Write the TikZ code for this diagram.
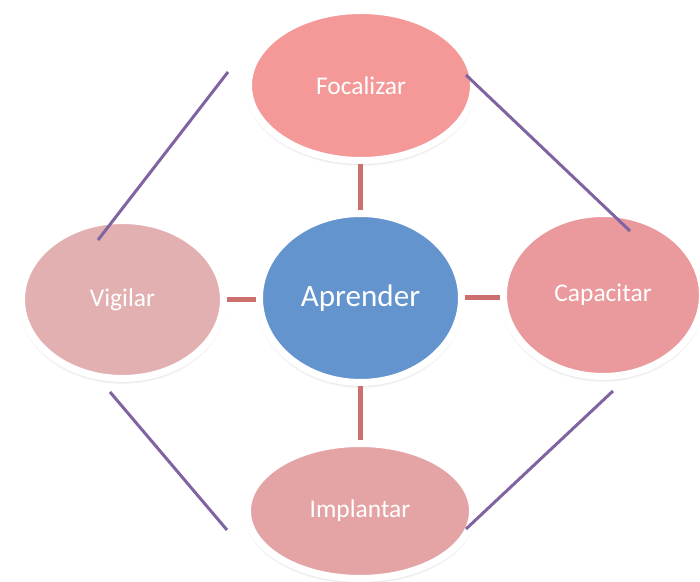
\documentclass[tikz,border=0pt]{standalone}
\usepackage{fontspec}
\setmainfont{Carlito}
\usepackage{tikz}
\usetikzlibrary{shapes.geometric, shadows.blur}
\usepackage{xcolor}

\definecolor{focfill}{RGB}{244,152,152}
\definecolor{aprfill}{RGB}{99,148,205}
\definecolor{vigfill}{RGB}{227,176,178}
\definecolor{capfill}{RGB}{234,154,156}
\definecolor{impfill}{RGB}{228,164,165}
\definecolor{spoke}{RGB}{204,112,110}
\definecolor{ring}{RGB}{128,100,162}

\begin{document}
\begin{tikzpicture}[
    bubble/.style={
      ellipse, draw=white, line width=0.14cm,
      text=white, font=\fontsize{14.5}{17}\selectfont,
      inner sep=0pt,
      blur shadow={shadow xshift=0pt, shadow yshift=-1.5pt,
        shadow opacity=30, shadow blur steps=6}
    },
    spokeline/.style={line width=0.1cm, draw=spoke},
    ringline/.style={line width=0.06cm, draw=ring}
  ]
    \useasboundingbox (0,0) rectangle (14,11.64);

    \node[bubble, fill=aprfill, minimum width=4.04cm, minimum height=3.38cm,
      font=\fontsize{17.7}{21}\selectfont] (apr) at (7.21,5.68) {Aprender};
    \node[bubble, fill=focfill, minimum width=4.50cm, minimum height=3.00cm] (foc) at (7.22,9.93) {Focalizar};
    \node[bubble, fill=vigfill, minimum width=4.04cm, minimum height=3.16cm] (vig) at (2.45,5.65) {Vigilar};
    \node[bubble, fill=capfill, minimum width=3.98cm, minimum height=3.26cm] (cap) at (12.06,5.74) {Capacitar};
    \node[bubble, fill=impfill, minimum width=4.50cm, minimum height=2.70cm] (imp) at (7.20,1.42) {Implantar};

    \draw[spokeline] (foc.south -| apr.north) -- (apr.north);
    \draw[spokeline] (vig.east) -- (vig.east -| apr.west);
    \draw[spokeline] (apr.east) -- (apr.east -| cap.west);
    \draw[spokeline] (apr.south) -- (apr.south |- imp.north);

    % free ends of the outer ring
    \coordinate (vf-a) at (1.96,6.84);
    \coordinate (vf-b) at (4.56,10.20);
    \coordinate (fc-a) at (9.32,10.14);
    \coordinate (fc-b) at (12.60,7.02);
    \coordinate (vi-a) at (2.20,3.80);
    \coordinate (vi-b) at (4.54,1.04);
    \coordinate (ic-a) at (9.32,1.06);
    \coordinate (ic-b) at (12.26,3.82);

    \draw[ringline] (vf-a) -- (vf-b);
    \draw[ringline] (fc-a) -- (fc-b);
    \draw[ringline] (vi-a) -- (vi-b);
    \draw[ringline] (ic-a) -- (ic-b);
  \end{tikzpicture}
\end{document}
